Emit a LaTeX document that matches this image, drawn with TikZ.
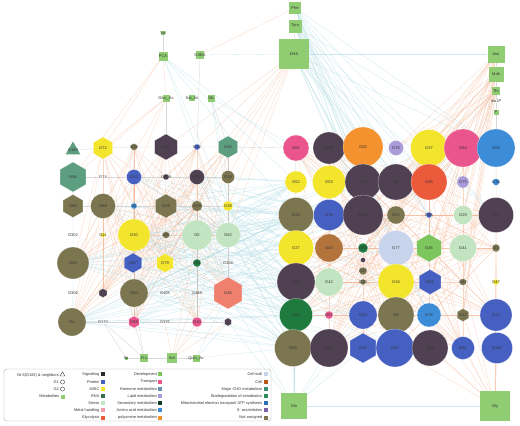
\documentclass[tikz,border=0pt]{standalone}
\usepackage{fontspec}
\setmainfont{Liberation Sans}
\usetikzlibrary{shapes.geometric,backgrounds}
\definecolor{metg}{HTML}{8FCC72}
\definecolor{olv}{HTML}{7C7650}
\definecolor{drk}{HTML}{4F4152}
\definecolor{yel}{HTML}{F3E52C}
\definecolor{pro}{HTML}{4560C0}
\definecolor{amb}{HTML}{3C8CD8}
\definecolor{lgr}{HTML}{C3E4C0}
\definecolor{pnk}{HTML}{E9558C}
\definecolor{glyc}{HTML}{EB5A3A}
\definecolor{org}{HTML}{F3922E}
\definecolor{lav}{HTML}{A99AD8}
\definecolor{brn}{HTML}{B3743C}
\definecolor{cwl}{HTML}{C8D4EC}
\definecolor{dgr}{HTML}{1F7A40}
\definecolor{tea}{HTML}{5E9E80}
\definecolor{grn}{HTML}{7DC65E}
\definecolor{sal}{HTML}{F0806E}
\definecolor{edo}{HTML}{F2B08C}
\definecolor{edb}{HTML}{A6D6E0}
\definecolor{edg}{HTML}{C8C8C8}
\definecolor{txt}{HTML}{333333}
\definecolor{sec}{HTML}{133D22}
\definecolor{hor}{HTML}{6A90B8}
\definecolor{mit}{HTML}{2A6FB8}
\definecolor{bio}{HTML}{2E8B5A}
\definecolor{cho}{HTML}{3A8F72}
\definecolor{sas}{HTML}{7A5EA8}
\definecolor{sig}{HTML}{2A2A2A}
\definecolor{rna}{HTML}{3A6E48}
\definecolor{cel}{HTML}{B55A1E}
\definecolor{mhd}{HTML}{F29AAA}
\tikzset{
 lbl/.style={font=\fontsize{4}{4.5}\selectfont, text=txt},
 lgt/.style={font=\fontsize{3.9}{4.4}\selectfont, text=txt, inner sep=0.5pt},
 cn/.style 2 args={circle, fill=#1, minimum size=#2, inner sep=0pt, draw=white, line width=0.15pt},
 hx/.style 2 args={regular polygon, regular polygon sides=6, shape border rotate=30, fill=#1, minimum size=#2, inner sep=0pt, draw=white, line width=0.15pt},
 tri/.style 2 args={regular polygon, regular polygon sides=3, fill=#1, minimum size=#2, inner sep=0pt},
 mt/.style={rectangle, fill=metg, minimum size=#1, inner sep=0pt},
 sq/.style={rectangle, fill=#1, minimum size=4, inner sep=0pt},
 oe/.style={draw=edo, line width=0.3pt, draw opacity=0.5},
 be/.style={draw=edb, line width=0.3pt, draw opacity=0.55},
 ge/.style={draw=edg, line width=0.35pt, draw opacity=0.7},
}
\newcommand\gcirc[6]{\node[cn={#4}{#5},label={[lbl]center:#6}] (#1) at (#2,#3) {};}
\newcommand\ghex[6]{\node[hx={#4}{#5},label={[lbl]center:#6}] (#1) at (#2,#3) {};}
\newcommand\gtxt[4]{\node[lbl,inner sep=0.3pt] (#1) at (#2,#3) {#4};}
\newcommand\gmet[5]{\node[mt=#4,label={[lbl]center:#5}] (#1) at (#2,#3) {};}
\newcommand\legsq[5]{\node[lgt,anchor=east] (#1t) at (#2-2.6,#3) {#5};\node[sq=#4] (#1) at (#2,#3) {};}
\begin{document}
\begin{tikzpicture}[x=1pt,y=-1pt]
\useasboundingbox (0,0) rectangle (520,426);
% ---------- left group
\node[tri={tea}{17},label={[lbl]center:G183}] (La1) at (73,150) {};
\ghex{La2}{103}{148}{yel}{22}{G72}
\gcirc{La3}{134}{147}{olv}{7}{G35}
\ghex{La4}{166}{147}{drk}{26}{G36}
\gcirc{La5}{197}{147}{pro}{6}{G32}
\ghex{La6}{228}{147}{tea}{22}{G40}
\ghex{Lb1}{73}{177}{tea}{30}{G56}
\gtxt{Lb2}{103}{177}{G74}
\gcirc{Lb3}{134}{177}{pro}{15}{G24}
\gcirc{Lb4}{166}{177}{drk}{6}{G209}
\gcirc{Lb5}{197}{177}{drk}{15}{G46}
\gcirc{Lb6}{228}{177}{olv}{13}{G19}
\ghex{Lc1}{73}{206}{olv}{23}{G80}
\gcirc{Lc2}{103}{206}{olv}{25}{G69}
\gcirc{Lc3}{134}{206}{amb}{6}{G6}
\ghex{Lc4}{166}{206}{olv}{24}{G28}
\gcirc{Lc5}{197}{206}{olv}{11}{G59}
\gcirc{Lc6}{228}{206}{yel}{10}{G38}
\gtxt{Ld1}{73}{235}{G302}
\gcirc{Ld2}{103}{235}{yel}{5}{G11}
\gcirc{Ld3}{134}{235}{yel}{32}{G30}
\gcirc{Ld4}{166}{235}{olv}{7}{G20}
\gcirc{Ld5}{197}{235}{lgr}{30}{G5}
\gcirc{Ld6}{228}{235}{lgr}{25}{G82}
\gcirc{Le1}{73}{263}{olv}{32}{G50}
\ghex{Le3}{133}{263}{pro}{20}{G67}
\ghex{Le4}{165}{263}{yel}{19}{G79}
\gcirc{Le5}{197}{263}{dgr}{8}{G61}
\gtxt{Le6}{228}{263}{G104}
\gtxt{Lf1}{73}{293}{G306}
\ghex{Lf2}{103}{293}{drk}{9}{}
\gcirc{Lf3}{134}{293}{olv}{28}{G60}
\gtxt{Lf4}{165}{293}{G405}
\gtxt{Lf5}{197}{293}{G448}
\ghex{Lf6}{228}{293}{sal}{32}{G26}
\gcirc{Lg1}{72}{322}{olv}{28}{G4}
\gtxt{Lg2}{103}{322}{G170}
\ghex{Lg3}{134}{322}{pnk}{12}{G69}
\gtxt{Lg4}{165}{322}{G335}
\gcirc{Lg5}{197}{322}{pnk}{10}{G10}
\ghex{Lg6}{228}{322}{drk}{8}{}
% ---------- right group
\gcirc{Ra1}{296}{148}{pnk}{26}{G61}
\gcirc{Ra2}{329}{148}{drk}{32}{G208}
\gcirc{Ra3}{363}{147}{org}{40}{G92}
\gcirc{Ra4}{396}{148}{lav}{15}{G76}
\gcirc{Ra5}{429}{148}{yel}{37}{G37}
\gcirc{Ra6}{463}{148}{pnk}{38}{G84}
\gcirc{Ra7}{496}{148}{amb}{38}{G54}
\gcirc{Rb1}{296}{182}{yel}{22}{G52}
\gcirc{Rb2}{329}{182}{yel}{33}{G53}
\gcirc{Rb3}{363}{182}{drk}{36}{G18}
\gcirc{Rb4}{396}{182}{drk}{36}{G8}
\gcirc{Rb5}{429}{182}{glyc}{36}{G45}
\gcirc{Rb6}{463}{182}{lav}{12}{G75}
\gcirc{Rb7}{496}{182}{amb}{7}{G36}
\gcirc{Rc1}{296}{215}{olv}{35}{G34}
\gcirc{Rc2}{329}{215}{pro}{31}{G70}
\gcirc{Rc3}{363}{215}{drk}{40}{G140}
\gcirc{Rc4}{396}{215}{olv}{18}{G51}
\gcirc{Rc5}{429}{215}{pro}{6}{G85}
\gcirc{Rc6}{463}{215}{lgr}{19}{G29}
\gcirc{Rc7}{496}{215}{drk}{35}{G9}
\gcirc{Rd1}{296}{248}{yel}{35}{G27}
\gcirc{Rd2}{329}{248}{brn}{28}{G43}
\gcirc{Rd3}{363}{248}{dgr}{10}{G68}
\gcirc{Rx1}{363}{260}{drk}{5}{}
\gcirc{Rx2}{363}{271}{olv}{8}{G27}
\gcirc{Rd4}{396}{248}{cwl}{35}{G77}
\ghex{Rd5}{429}{248}{grn}{28}{G46}
\gcirc{Rd6}{463}{248}{lgr}{27}{G41}
\gcirc{Rd7}{496}{248}{olv}{8}{G1}
\gcirc{Re1}{296}{282}{drk}{38}{G15}
\gcirc{Re2}{329}{282}{lgr}{28}{G42}
\gcirc{Re3}{363}{282}{olv}{6}{G30}
\gcirc{Re4}{396}{282}{yel}{36}{G16}
\ghex{Re5}{430}{282}{pro}{25}{G32}
\gcirc{Re6}{463}{282}{olv}{7}{G37}
\gcirc{Re7}{496}{282}{yel}{6}{G47}
\gcirc{Rf1}{296}{315}{dgr}{33}{G65}
\gcirc{Rf2}{329}{315}{pnk}{8}{G57}
\gcirc{Rf3}{363}{315}{pro}{28}{G23}
\gcirc{Rf4}{396}{315}{olv}{36}{G3}
\gcirc{Rf5}{429}{315}{amb}{24}{G76}
\ghex{Rf6}{463}{315}{olv}{13}{G12}
\gcirc{Rf7}{496}{315}{pro}{32}{G71}
\gcirc{Rg1}{293}{348}{olv}{37}{G83}
\gcirc{Rg2}{329}{348}{drk}{38}{G14}
\ghex{Rg3}{363}{348}{pro}{30}{G33}
\gcirc{Rg4}{395}{348}{pro}{38}{G81}
\gcirc{Rg5}{430}{348}{drk}{36}{G28}
\gcirc{Rg6}{463}{348}{pro}{23}{G31}
\gcirc{Rg7}{497}{348}{pro}{31}{G142}
% ---------- metabolites
\gmet{Val}{163}{33}{4}{Val}
\gmet{PCA}{163}{56}{9}{PCA}
\gmet{GABA}{200}{55}{8}{GABA}
\gmet{Gluc}{166}{98}{7}{Gluc\_Ac}
\gmet{Sal}{192}{98}{6}{Sal\_Ac}
\gmet{Gb}{211}{98}{7}{Gb}
\gmet{Phe}{295}{8}{12}{Phe}
\gmet{Tyra}{295}{26}{13}{Tyra}
\gmet{DHA}{294}{54}{30}{DHA}
\gmet{Asn}{496}{54}{17}{Asn}
\gmet{Malt}{496}{74}{15}{Malt}
\gmet{Thr}{496}{91}{8}{Thr}
\gtxt{Ino}{496}{101}{Ino1P}
\gmet{P}{496}{112}{5}{P}
\gmet{Glu}{294}{406}{26}{Glu}
\gmet{Gly}{495}{406}{30}{Gly}
\gmet{Ile}{126}{358}{3}{Ile}
\gmet{Fru}{144}{358}{8}{Fru}
\gmet{Ser}{172}{358}{10}{Ser}
\gmet{Quin}{196}{358}{7}{Quin\_Ac}
% ---------- edges
\begin{scope}[on background layer]
\foreach \a in {La2,La3,La4,La5,La6,Lb3,Lb5,Lc2,Lc4,Ld3,Ld5,Lc5}
 \foreach \b in {Le1,Lf3,Lg1,Lg3,Lf6,Le3,Le4,Lg5,Ld6,Lf2}
  \draw[oe] (\a) -- (\b);
\foreach \a in {Ld3,Le3,Lf3,Lg1,Le1,Ld5,Ld6,Lf6,Lc4,Lb5,Lg3,Lc2,Le4,Lc6}
 \foreach \b in {Rc1,Rd1,Re1,Rf1,Rb1,Rg1,Rc2}
  \draw[be] (\a) -- (\b);
\foreach \a in {Le1,Lg1,Lf3,Ld3,Lb3}
 \foreach \b in {Rc3,Re4,Rd4,Rg4,Rf3,Rb3}
  \draw[be] (\a) -- (\b);
\foreach \a in {Phe,Tyra,DHA}
 \foreach \b in {Ra3,Rb3,Rc3,Rb5,Rc5,Rd4,Re4,Rb4,Ra7,Rc7,Rf5}
  \draw[be] (\a) -- (\b);
\foreach \b in {La4,La6,Lb5,Lb6,Lc5,Lc6,Ld6,Lb4}
 \draw[oe] (DHA) -- (\b);
\foreach \a in {Asn,Malt,Thr}
 \foreach \b in {Ra5,Rb4,Rb5,Rc3,Rc4,Rd3,Rd5,Re5,Rf6,Rc6,Rb6,Re6,Ra4}
  \draw[oe] (\a) -- (\b);
\foreach \a in {Rb3,Rc3,Rd3,Re3,Rx1,Rx2,Rb5,Rc5,Rd5,Re5,Rc4,Rf5,Re6,Rf2}
 \foreach \b in {Ra1,Ra5,Ra6,Rc7,Rd1,Re1,Rf1,Rf7,Rg2,Rg4,Rg6,Rd7,Ra2}
  \draw[oe] (\a) -- (\b);
\foreach \b in {Rg7,Rf7,Rg6,Rf6,Re7,Rd7,Rg5,Rf5,Rg4,Re6,Rc7,Rf4,Re5}
 \draw[oe] (Gly) -- (\b);
\foreach \b in {Rg1,Rf1,Re1,Rg2,Rd1,Rf3,Rg3,Lg6,Lf6,Rc1}
 \draw[be] (Glu) -- (\b);
\draw[be] (Glu) -- (Gly);
\draw[be] (DHA) -- (Asn);
\draw[be] (GABA) -- (DHA);
\draw[ge] (Val) -- (PCA);
\draw[ge] (Ile) -- (Fru) -- (Ser) -- (Quin);
\draw[ge] (Asn) -- (Malt) -- (Thr) -- (Ino) -- (P) -- (Ra7);
\draw[ge] (Phe) -- (Tyra) -- (DHA);
\draw[ge] (Ra1) -- (Rg1);
\draw[oe] (Ra7) -- (Rg7);
\draw[oe] (Rd3) -- (Rg3);
\foreach \b in {Rb1,Rc1,Rb2,Lc6,Ld6}
 \draw[be] (PCA) -- (\b);
\foreach \b in {Gluc,La2,Lb1}
 \draw[oe] (PCA) -- (\b);
\draw[oe] (GABA) -- (Phe);
\draw[ge] (GABA) -- (La5);
\draw[ge] (Gluc) -- (La4);
\draw[ge] (Gb) -- (La6);
\foreach \b in {La2,Lb1,Lc2,Lb3}
 \draw[oe] (Gluc) -- (\b);
\foreach \b in {Lb6,Lc6,Ra1}
 \draw[be] (Gb) -- (\b);
\foreach \b in {Lg4,Lg5,Lf5,Lg6,Lf6,Ld5}
 \draw[oe] (Ser) -- (\b);
\foreach \b in {Lg3,Lg2,Lf3}
 \draw[ge] (Fru) -- (\b);
\foreach \b in {Lg6,Rg1,Lf6}
 \draw[be] (Quin) -- (\b);
\draw[ge] (Ile) -- (Lg2);
\draw[ge] (La1) -- (La2) -- (La3) -- (La4) -- (La5) -- (La6) -- (Ra1);
\draw[ge] (Lb1) -- (Lb2) -- (Lb3) -- (Lb4) -- (Lb5) -- (Lb6);
\draw[ge] (Lc1) -- (Lc2) -- (Lc3) -- (Lc4) -- (Lc5) -- (Lc6);
\draw[ge] (Lg1) -- (Lg2) -- (Lg3) -- (Lg4) -- (Lg5) -- (Lg6);
\draw[be] (La1) -- (Lb1) -- (Lc1) -- (Ld1) -- (Le1) -- (Lf1) -- (Lg1);
\draw[ge] (La6) -- (Lb6) -- (Lc6) -- (Ld6) -- (Le6) -- (Lf6);
\draw[ge] (Ld5) -- (Le5) -- (Lf5) -- (Lg5);
\draw[be] (Lb6) -- (Rb1);
\end{scope}
% ---------- legend
\node[draw=gray!70, rounded corners=3pt, line width=0.4pt, minimum width=267, minimum height=52, inner sep=0pt] (legend) at (137.5,395) {};
\node[lgt,anchor=east] (k1t) at (59.5,375) {NI-6(G183) \& neighbors};
\node[regular polygon, regular polygon sides=3, draw=txt, line width=0.35pt, minimum size=5.5, inner sep=0pt] (k1) at (62.5,374.6) {};
\node[lgt,anchor=east] (k2t) at (59.5,382) {G1};
\node[circle, draw=txt, line width=0.35pt, minimum size=4.2, inner sep=0pt] (k2) at (62.5,382) {};
\node[lgt,anchor=east] (k3t) at (59.5,389) {G2};
\node[circle, draw=txt, line width=0.35pt, minimum size=4.2, inner sep=0pt] (k3) at (62.5,389) {};
\legsq{k4}{62.5}{396.5}{metg}{Metabolites}
\legsq{c1}{102.7}{374.3}{sig}{Signalling}
\legsq{c2}{102.7}{381.7}{pro}{Protein}
\legsq{c3}{102.7}{389}{yel}{MISC}
\legsq{c4}{102.7}{396}{rna}{RNA}
\legsq{c5}{102.7}{403}{lgr}{Stress}
\legsq{c6}{102.7}{410.3}{mhd}{Metal handling}
\legsq{c7}{102.7}{417.7}{glyc}{Glycolysis}
\legsq{d1}{160.3}{374.3}{grn}{Development}
\legsq{d2}{160.3}{381.7}{pnk}{Transport}
\legsq{d3}{160.3}{389}{hor}{Hormone metabolism}
\legsq{d4}{160.3}{396}{lav}{Lipid metabolism}
\legsq{d5}{160.3}{403}{sec}{Secondary metabolism}
\legsq{d6}{160.3}{410.3}{amb}{Amino acid metabolism}
\legsq{d7}{160.3}{417.7}{org}{polyamine metabolism}
\legsq{e1}{265.5}{374.3}{cwl}{Cell wall}
\legsq{e2}{265.5}{381.7}{cel}{Cell}
\legsq{e3}{265.5}{389}{cho}{Major CHO metabolism}
\legsq{e4}{265.5}{396}{bio}{Biodegradation of xenobiotics}
\legsq{e5}{265.5}{403}{mit}{Mitochondrial electron transport/ ATP synthesis}
\legsq{e6}{265.5}{410.3}{sas}{S- assimilation}
\legsq{e7}{265.5}{417.7}{olv}{Not assigned}
\end{tikzpicture}
\end{document}
